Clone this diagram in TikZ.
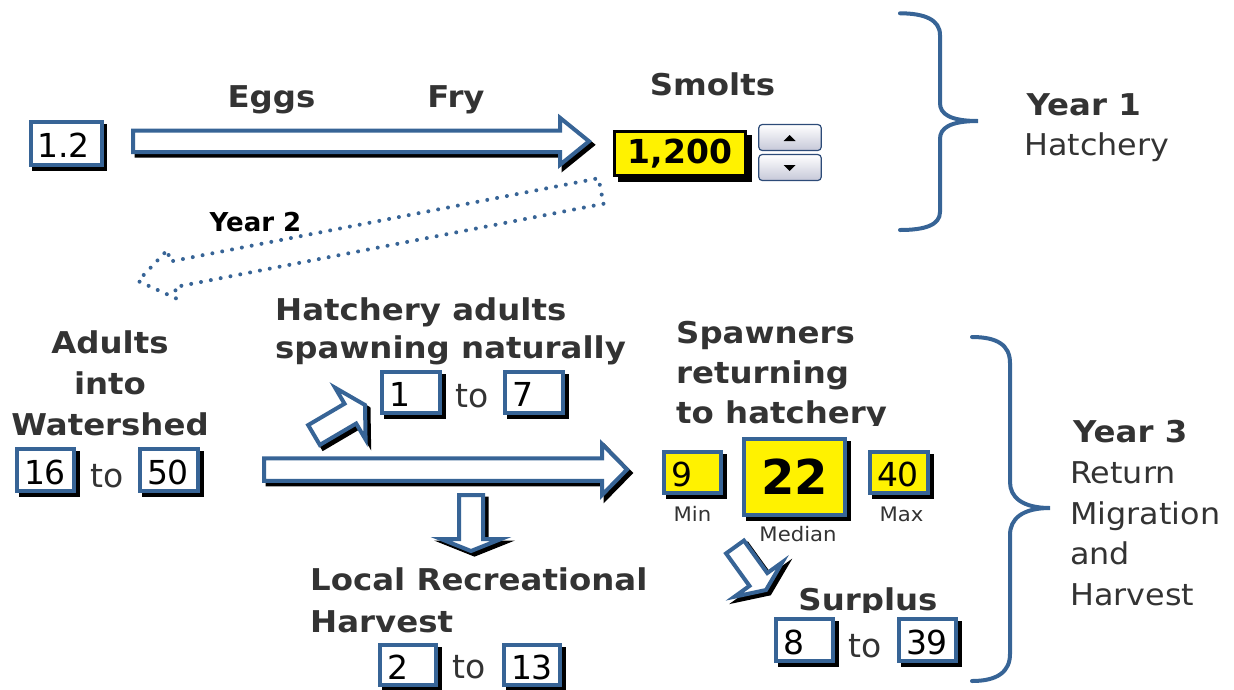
\documentclass[tikz,border=0pt]{standalone}
\usepackage{fontspec}
\setmainfont{DejaVu Sans}
\newfontfamily\widefam{DejaVu Sans}[FakeStretch=1.06]
\newfontfamily\heavyfam{DejaVu Sans Bold}[FakeStretch=1.08]
\usetikzlibrary{calc}

\definecolor{flowblue}{RGB}{55,100,150}
\definecolor{ink}{RGB}{51,51,51}
\definecolor{btnedge}{RGB}{45,75,120}
\definecolor{btnlow}{RGB}{198,200,216}

\newcommand\headfont{\fontsize{30}{36}\selectfont\heavyfam}
\newcommand\bodyfont{\fontsize{30}{36}\selectfont\widefam}
\newcommand\numfont{\fontsize{33}{38}\selectfont}
\newcommand\tagfont{\fontsize{20}{24}\selectfont\widefam}

% block arrow: [style]{tail}{tip}{shaft half-width}{head half-width}{head length}
\newcommand\blockarrow[6][]{%
  \coordinate (ba-base) at ($(#3)!#6!(#2)$);
  \path[#1] ($(#2)!#4!90:(#3)$) -- ($(ba-base)!#4!90:(#3)$)
     -- ($(ba-base)!#5!90:(#3)$) -- (#3)
     -- ($(ba-base)!#5!-90:(#3)$) -- ($(ba-base)!#4!-90:(#3)$)
     -- ($(#2)!#4!-90:(#3)$) -- cycle;}

\tikzset{
  shadowed/.style={preaction={draw=black, fill=black, line width=4pt,
      transform canvas={xshift=3.5pt, yshift=-3.5pt}}},
  flowarrow/.style={draw=flowblue, line width=4pt, fill=white, shadowed},
  yeararrow/.style={draw=flowblue, line width=4pt, line cap=round,
      dash pattern=on 0pt off 10pt},
  numbox/.style={draw=flowblue, line width=4pt, fill=white, text=black,
      font=\numfont, inner xsep=7pt, inner ysep=0pt, align=left,
      text height=28pt, text depth=0pt, shadowed},
  yellowbox/.style={numbox, fill=yellow},
  head/.style={font=\headfont, text=ink, inner sep=0pt},
  body/.style={font=\bodyfont, text=ink, inner sep=0pt},
  tolabel/.style={font=\numfont, text=ink, inner sep=0pt, anchor=base},
  tag/.style={font=\tagfont, text=ink, inner sep=0pt, anchor=base},
  spinbtn/.style={draw=btnedge, line width=1.2pt, rounded corners=3.5pt,
      top color=white, bottom color=btnlow, minimum width=62.5pt,
      minimum height=26pt, inner sep=0pt},
  brace/.style={draw=flowblue, line width=4pt, line cap=round},
}

\begin{document}
\begin{tikzpicture}[x=1pt, y=-1pt]
\useasboundingbox (0,0) rectangle (1234,689);

% ---------- Year 1: hatchery ----------
\node[numbox, minimum height=43pt, text width=57pt] (eggsIn) at (66,143.5) {1.2};
\node[head, anchor=base] (eggsLbl) at (271.5,107) {Eggs};
\node[head, anchor=base] (fryLbl) at (456,107) {Fry};
\node[head, anchor=base] (smoltLbl) at (712.5,95) {Smolts};

\node[draw=black, line width=3pt, fill=yellow, font=\fontsize{33}{40}\selectfont\bfseries,
      minimum width=131pt, minimum height=44pt, inner sep=0pt,
      preaction={draw=black, fill=black, line width=3pt,
                 transform canvas={xshift=4.5pt, yshift=-4.5pt}}]
      (smolts) at (680,153.5) {1,200};

\node[spinbtn] (spinUp) at (790,137.5) {};
\node[spinbtn] (spinDown) at (790,167.5) {};
\fill[black] (783.5,141) -- (795.5,141) -- (789.5,135) -- cycle;
\fill[black] (783.5,165) -- (795.5,165) -- (789.5,171) -- cycle;

\coordinate (eggsTail) at (133,141.3);
\coordinate (eggsTip) at (589,141.3);
\blockarrow[flowarrow]{eggsTail}{eggsTip}{10.75pt}{23.5pt}{29pt}

% ---------- Year 2: to the ocean and back ----------
\coordinate (seaTail) at (601,191);
\coordinate (seaTip) at (138,281);
\blockarrow[yeararrow]{seaTail}{seaTip}{13pt}{25pt}{35pt}
\node[font=\fontsize{26}{30}\selectfont\bfseries, inner sep=0pt, anchor=base]
      (year2) at (255.5,231) {Year 2};

% ---------- Year 3: return migration ----------
\node[head, anchor=base] (adults1) at (110,353) {Adults};
\node[head, anchor=base] (adults2) at (110,394) {into};
\node[head, anchor=base] (adults3) at (110,435) {Watershed};
\node[numbox, minimum height=42pt, text width=43pt] (adultsLo) at (45.5,470) {16};
\node[tolabel] (adultsTo) at (107,487) {to};
\node[numbox, minimum height=42pt, text width=44pt] (adultsHi) at (169,470) {50};

\coordinate (runTail) at (264,469.5);
\coordinate (runTip) at (627,469.5);
\blockarrow[flowarrow]{runTail}{runTip}{11.25pt}{25.5pt}{25pt}

\node[head, anchor=base west] (natural1) at (275,320.5) {Hatchery adults};
\node[head, anchor=base west] (natural2) at (275,358) {spawning naturally};
\node[numbox, minimum height=41pt, text width=44pt] (naturalLo) at (411,392.5) {1};
\node[tolabel] (naturalTo) at (472,407) {to};
\node[numbox, minimum height=41pt, text width=44pt] (naturalHi) at (534,392.5) {7};
\coordinate (naturalTail) at (314,435);
\coordinate (naturalTip) at (365,405);
\blockarrow[flowarrow]{naturalTail}{naturalTip}{11.5pt}{30pt}{17pt}

\begin{scope}
  \clip (600,290) rectangle (1000,425.5);
  \node[head, anchor=base west] (return1) at (676,343) {Spawners};
  \node[head, anchor=base west] (return2) at (676,383) {returning};
  \node[head, anchor=base west] (return3) at (676,423) {to hatchery};
\end{scope}
\node[yellowbox, minimum height=41pt, text width=43pt] (retMin) at (692.5,472.5) {9};
\node[numbox, fill=yellow, font=\fontsize{48}{54}\selectfont\bfseries, align=center,
      minimum width=101pt, minimum height=76pt, text height=35pt]
      (retMedian) at (794.5,477) {22};
\node[yellowbox, minimum height=41pt, text width=44pt] (retMax) at (899,472.5) {40};
\node[tag] (minTag) at (692.5,521) {Min};
\node[tag] (maxTag) at (901.5,521) {Max};
\node[tag] (medianTag) at (798,541) {Median};

\coordinate (harvestTail) at (471,495);
\coordinate (harvestTip) at (471,551);
\blockarrow[flowarrow]{harvestTail}{harvestTip}{12pt}{30pt}{12pt}
\node[head, anchor=base west] (harvest1) at (310,590) {Local Recreational};
\node[head, anchor=base west] (harvest2) at (310,632) {Harvest};
\node[numbox, minimum height=40pt, text width=42pt] (harvestLo) at (408,665) {2};
\node[tolabel] (harvestTo) at (469,678) {to};
\node[numbox, minimum height=40pt, text width=42pt] (harvestHi) at (532,665) {13};

\coordinate (surplusTail) at (735,547);
\coordinate (surplusTip) at (766,590);
\blockarrow[flowarrow]{surplusTail}{surplusTip}{11pt}{29.5pt}{13pt}
\begin{scope}
  \clip (700,560) rectangle (1000,612.5);
  \node[head, anchor=base] (surplusLbl) at (868,610) {Surplus};
\end{scope}
\node[numbox, minimum height=42pt, text width=43pt] (surplusLo) at (804.5,640) {8};
\node[tolabel] (surplusTo) at (865.5,657) {to};
\node[numbox, minimum height=42pt, text width=43pt] (surplusHi) at (927.5,640) {39};

% ---------- stage braces and captions ----------
\draw[brace] (900,13.3) .. controls (925,13.3) and (940,20) .. (940,35)
  -- (940,103) .. controls (940,114) and (950,121) .. (978,121)
  .. controls (950,121) and (940,128) .. (940,139)
  -- (940,212) .. controls (940,225) and (925,230) .. (900,230);
\node[head, anchor=base west] (year1) at (1026.5,115) {Year 1};
\node[body, anchor=base west] (year1sub) at (1024,155) {Hatchery};

\draw[brace] (972,337) .. controls (997,337) and (1010,345) .. (1010,363)
  -- (1010,482) .. controls (1010,497) and (1022,508) .. (1050,508)
  .. controls (1022,508) and (1010,519) .. (1010,535)
  -- (1010,654) .. controls (1010,672) and (997,681) .. (972,681);
\node[head, anchor=base west] (year3) at (1073,442) {Year 3};
\node[body, anchor=base west] (year3a) at (1070,483) {Return};
\node[body, anchor=base west] (year3b) at (1070,524) {Migration};
\node[body, anchor=base west] (year3c) at (1070,564.5) {and};
\node[body, anchor=base west] (year3d) at (1070,605) {Harvest};
\end{tikzpicture}
\end{document}
